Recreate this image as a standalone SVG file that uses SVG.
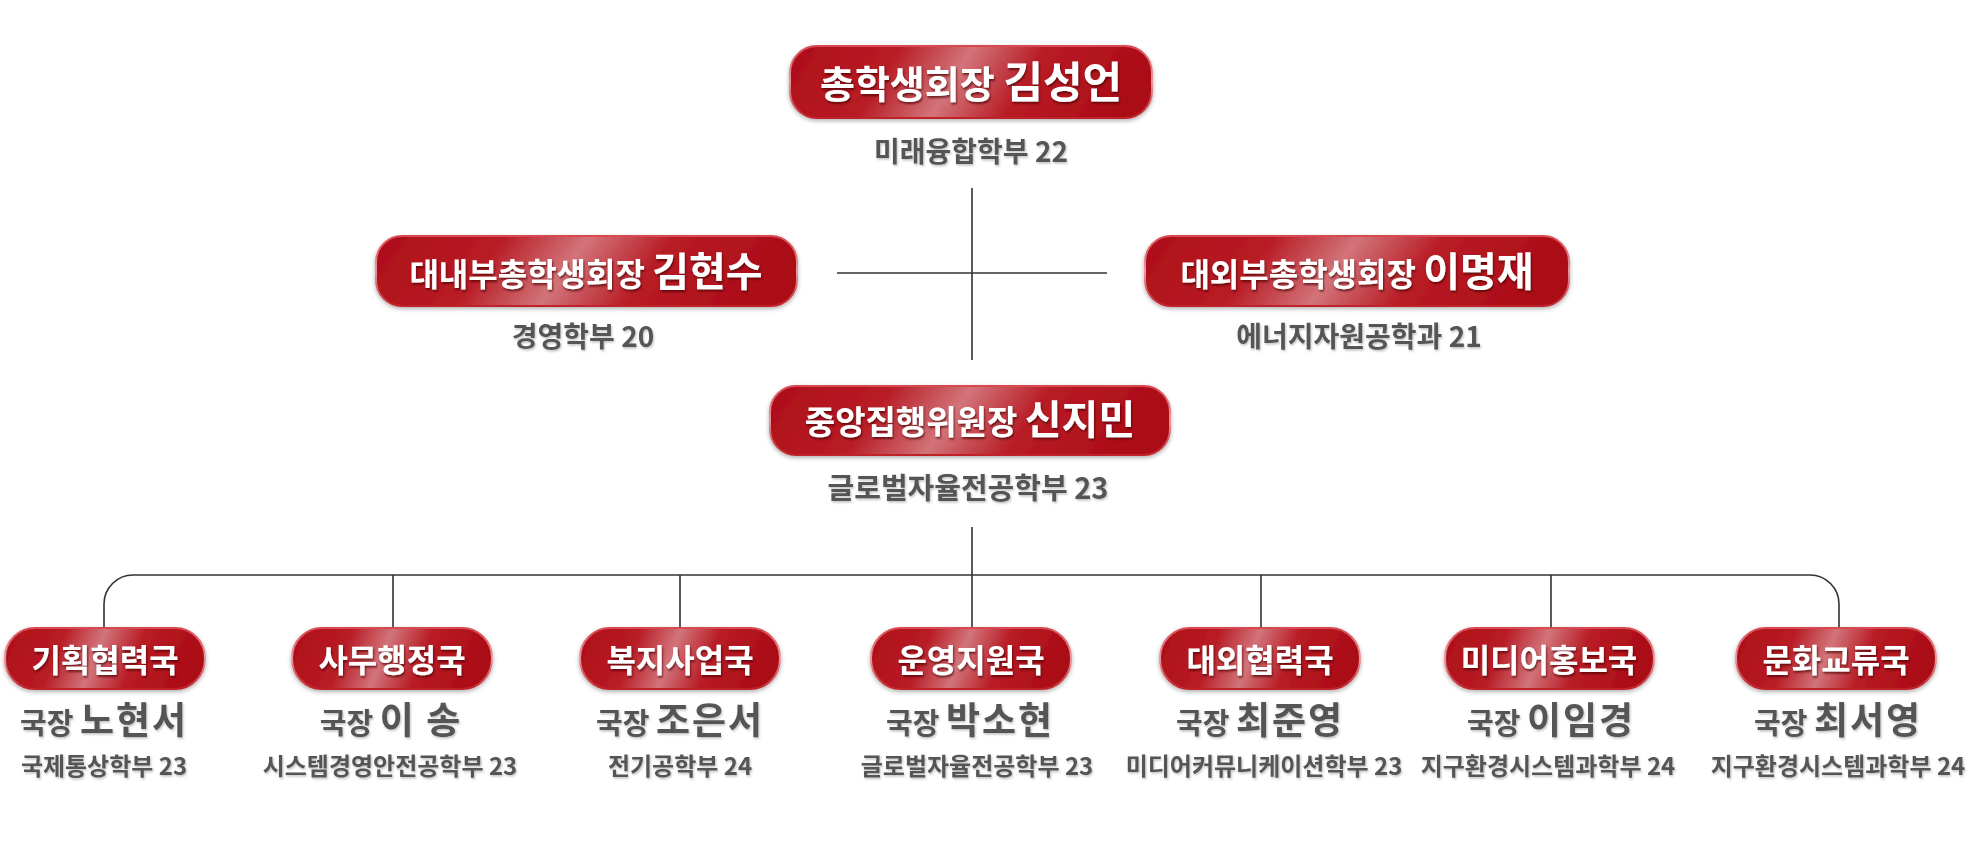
<svg xmlns="http://www.w3.org/2000/svg" width="1967" height="842" viewBox="0 0 1967 842">
<defs>
<linearGradient id="gloss" x1="0" y1="0" x2="1" y2="0.12">
<stop offset="0" stop-color="#ad0e18"/>
<stop offset="0.3" stop-color="#b81c25"/>
<stop offset="0.5" stop-color="#d2747a"/>
<stop offset="0.7" stop-color="#b81c25"/>
<stop offset="1" stop-color="#ab0c16"/>
</linearGradient>
<linearGradient id="edge" x1="0" y1="0" x2="0" y2="1">
<stop offset="0" stop-color="#d84850"/>
<stop offset="0.5" stop-color="#e89a9e"/>
<stop offset="1" stop-color="#c0222a"/>
</linearGradient>
<filter id="boxShadow" x="-10%" y="-20%" width="120%" height="150%">
<feDropShadow dx="0" dy="2" stdDeviation="2" flood-color="#000" flood-opacity="0.3"/>
</filter>
<filter id="wShadow" x="-10%" y="-20%" width="120%" height="150%">
<feDropShadow dx="1" dy="2" stdDeviation="1" flood-color="#4a0000" flood-opacity="0.7"/>
</filter>
<filter id="gShadow" x="-10%" y="-20%" width="120%" height="150%">
<feDropShadow dx="1" dy="1.5" stdDeviation="0.8" flood-color="#000" flood-opacity="0.25"/>
</filter>
</defs>
<style>
.box{fill:url(#gloss);stroke:url(#edge);stroke-width:2;filter:url(#boxShadow)}
.lbl{font-family:"Noto Sans CJK KR","Noto Sans",sans-serif;font-weight:700;fill:#ffffff;text-anchor:middle;filter:url(#wShadow)}
.sub{font-family:"Noto Sans CJK KR","Noto Sans",sans-serif;font-weight:700;fill:#555555;text-anchor:middle;filter:url(#gShadow)}
.nm{letter-spacing:2px}
.line{fill:none;stroke:#333;stroke-width:1.6}
</style>
<rect width="1967" height="842" fill="#ffffff"/>
<g id="connectors">
<path class="line" d="M972 188 V360"/>
<path class="line" d="M837 273 H1107"/>
<path class="line" d="M972 527 V628"/>
<path class="line" d="M104 628 V604 A29 29 0 0 1 133 575 H1810 A29 29 0 0 1 1839 604 V628"/>
<path class="line" d="M393 575 V628"/>
<path class="line" d="M680 575 V628"/>
<path class="line" d="M1261 575 V628"/>
<path class="line" d="M1551 575 V628"/>
</g>
<g id="president">
<rect class="box" x="790" y="46" width="362" height="72" rx="27"/>
<text class="lbl" x="971" y="98"><tspan font-size="38">총학생회장 </tspan><tspan font-size="43">김성언</tspan></text>
<text class="sub" x="971" y="162" font-size="28">미래융합학부 22</text>
</g>
<g id="vp-internal">
<rect class="box" x="376" y="236" width="421" height="70" rx="26"/>
<text class="lbl" x="586" y="286"><tspan font-size="32">대내부총학생회장 </tspan><tspan font-size="40">김현수</tspan></text>
<text class="sub" x="583" y="347" font-size="28">경영학부 20</text>
</g>
<g id="vp-external">
<rect class="box" x="1145" y="236" width="424" height="70" rx="26"/>
<text class="lbl" x="1357" y="286"><tspan font-size="32">대외부총학생회장 </tspan><tspan font-size="40">이명재</tspan></text>
<text class="sub" x="1359" y="347" font-size="28">에너지자원공학과 21</text>
</g>
<g id="central">
<rect class="box" x="770" y="386" width="400" height="69" rx="26"/>
<text class="lbl" x="970" y="434"><tspan font-size="33">중앙집행위원장 </tspan><tspan font-size="40">신지민</tspan></text>
<text class="sub" x="968" y="499" font-size="29">글로벌자율전공학부 23</text>
</g>
<g id="dept-planning">
<rect class="box" x="5" y="628" width="200" height="61" rx="30"/>
<text class="lbl" x="105" y="672" font-size="32">기획협력국</text>
<text class="sub" x="104" y="734"><tspan font-size="29">국장 </tspan><tspan class="nm" font-size="37">노현서</tspan></text>
<text class="sub" x="104" y="775" font-size="24">국제통상학부 23</text>
</g>
<g id="dept-admin">
<rect class="box" x="292" y="628" width="200" height="61" rx="30"/>
<text class="lbl" x="392" y="672" font-size="32">사무행정국</text>
<text class="sub" x="391" y="734"><tspan font-size="29">국장 </tspan><tspan class="nm" font-size="37">이 송</tspan></text>
<text class="sub" x="390" y="775" font-size="24">시스템경영안전공학부 23</text>
</g>
<g id="dept-welfare">
<rect class="box" x="580" y="628" width="200" height="61" rx="30"/>
<text class="lbl" x="680" y="672" font-size="32">복지사업국</text>
<text class="sub" x="680" y="734"><tspan font-size="29">국장 </tspan><tspan class="nm" font-size="37">조은서</tspan></text>
<text class="sub" x="680" y="775" font-size="24">전기공학부 24</text>
</g>
<g id="dept-operation">
<rect class="box" x="871" y="628" width="200" height="61" rx="30"/>
<text class="lbl" x="971" y="672" font-size="32">운영지원국</text>
<text class="sub" x="970" y="734"><tspan font-size="29">국장 </tspan><tspan class="nm" font-size="37">박소현</tspan></text>
<text class="sub" x="977" y="775" font-size="24">글로벌자율전공학부 23</text>
</g>
<g id="dept-external">
<rect class="box" x="1160" y="628" width="200" height="61" rx="30"/>
<text class="lbl" x="1260" y="672" font-size="32">대외협력국</text>
<text class="sub" x="1260" y="734"><tspan font-size="29">국장 </tspan><tspan class="nm" font-size="37">최준영</tspan></text>
<text class="sub" x="1264" y="775" font-size="24">미디어커뮤니케이션학부 23</text>
</g>
<g id="dept-media">
<rect class="box" x="1445" y="628" width="209" height="61" rx="30"/>
<text class="lbl" x="1549" y="672" font-size="32">미디어홍보국</text>
<text class="sub" x="1551" y="734"><tspan font-size="29">국장 </tspan><tspan class="nm" font-size="37">이임경</tspan></text>
<text class="sub" x="1548" y="775" font-size="24">지구환경시스템과학부 24</text>
</g>
<g id="dept-culture">
<rect class="box" x="1736" y="628" width="200" height="61" rx="30"/>
<text class="lbl" x="1836" y="672" font-size="32">문화교류국</text>
<text class="sub" x="1838" y="734"><tspan font-size="29">국장 </tspan><tspan class="nm" font-size="37">최서영</tspan></text>
<text class="sub" x="1838" y="775" font-size="24">지구환경시스템과학부 24</text>
</g>
</svg>
